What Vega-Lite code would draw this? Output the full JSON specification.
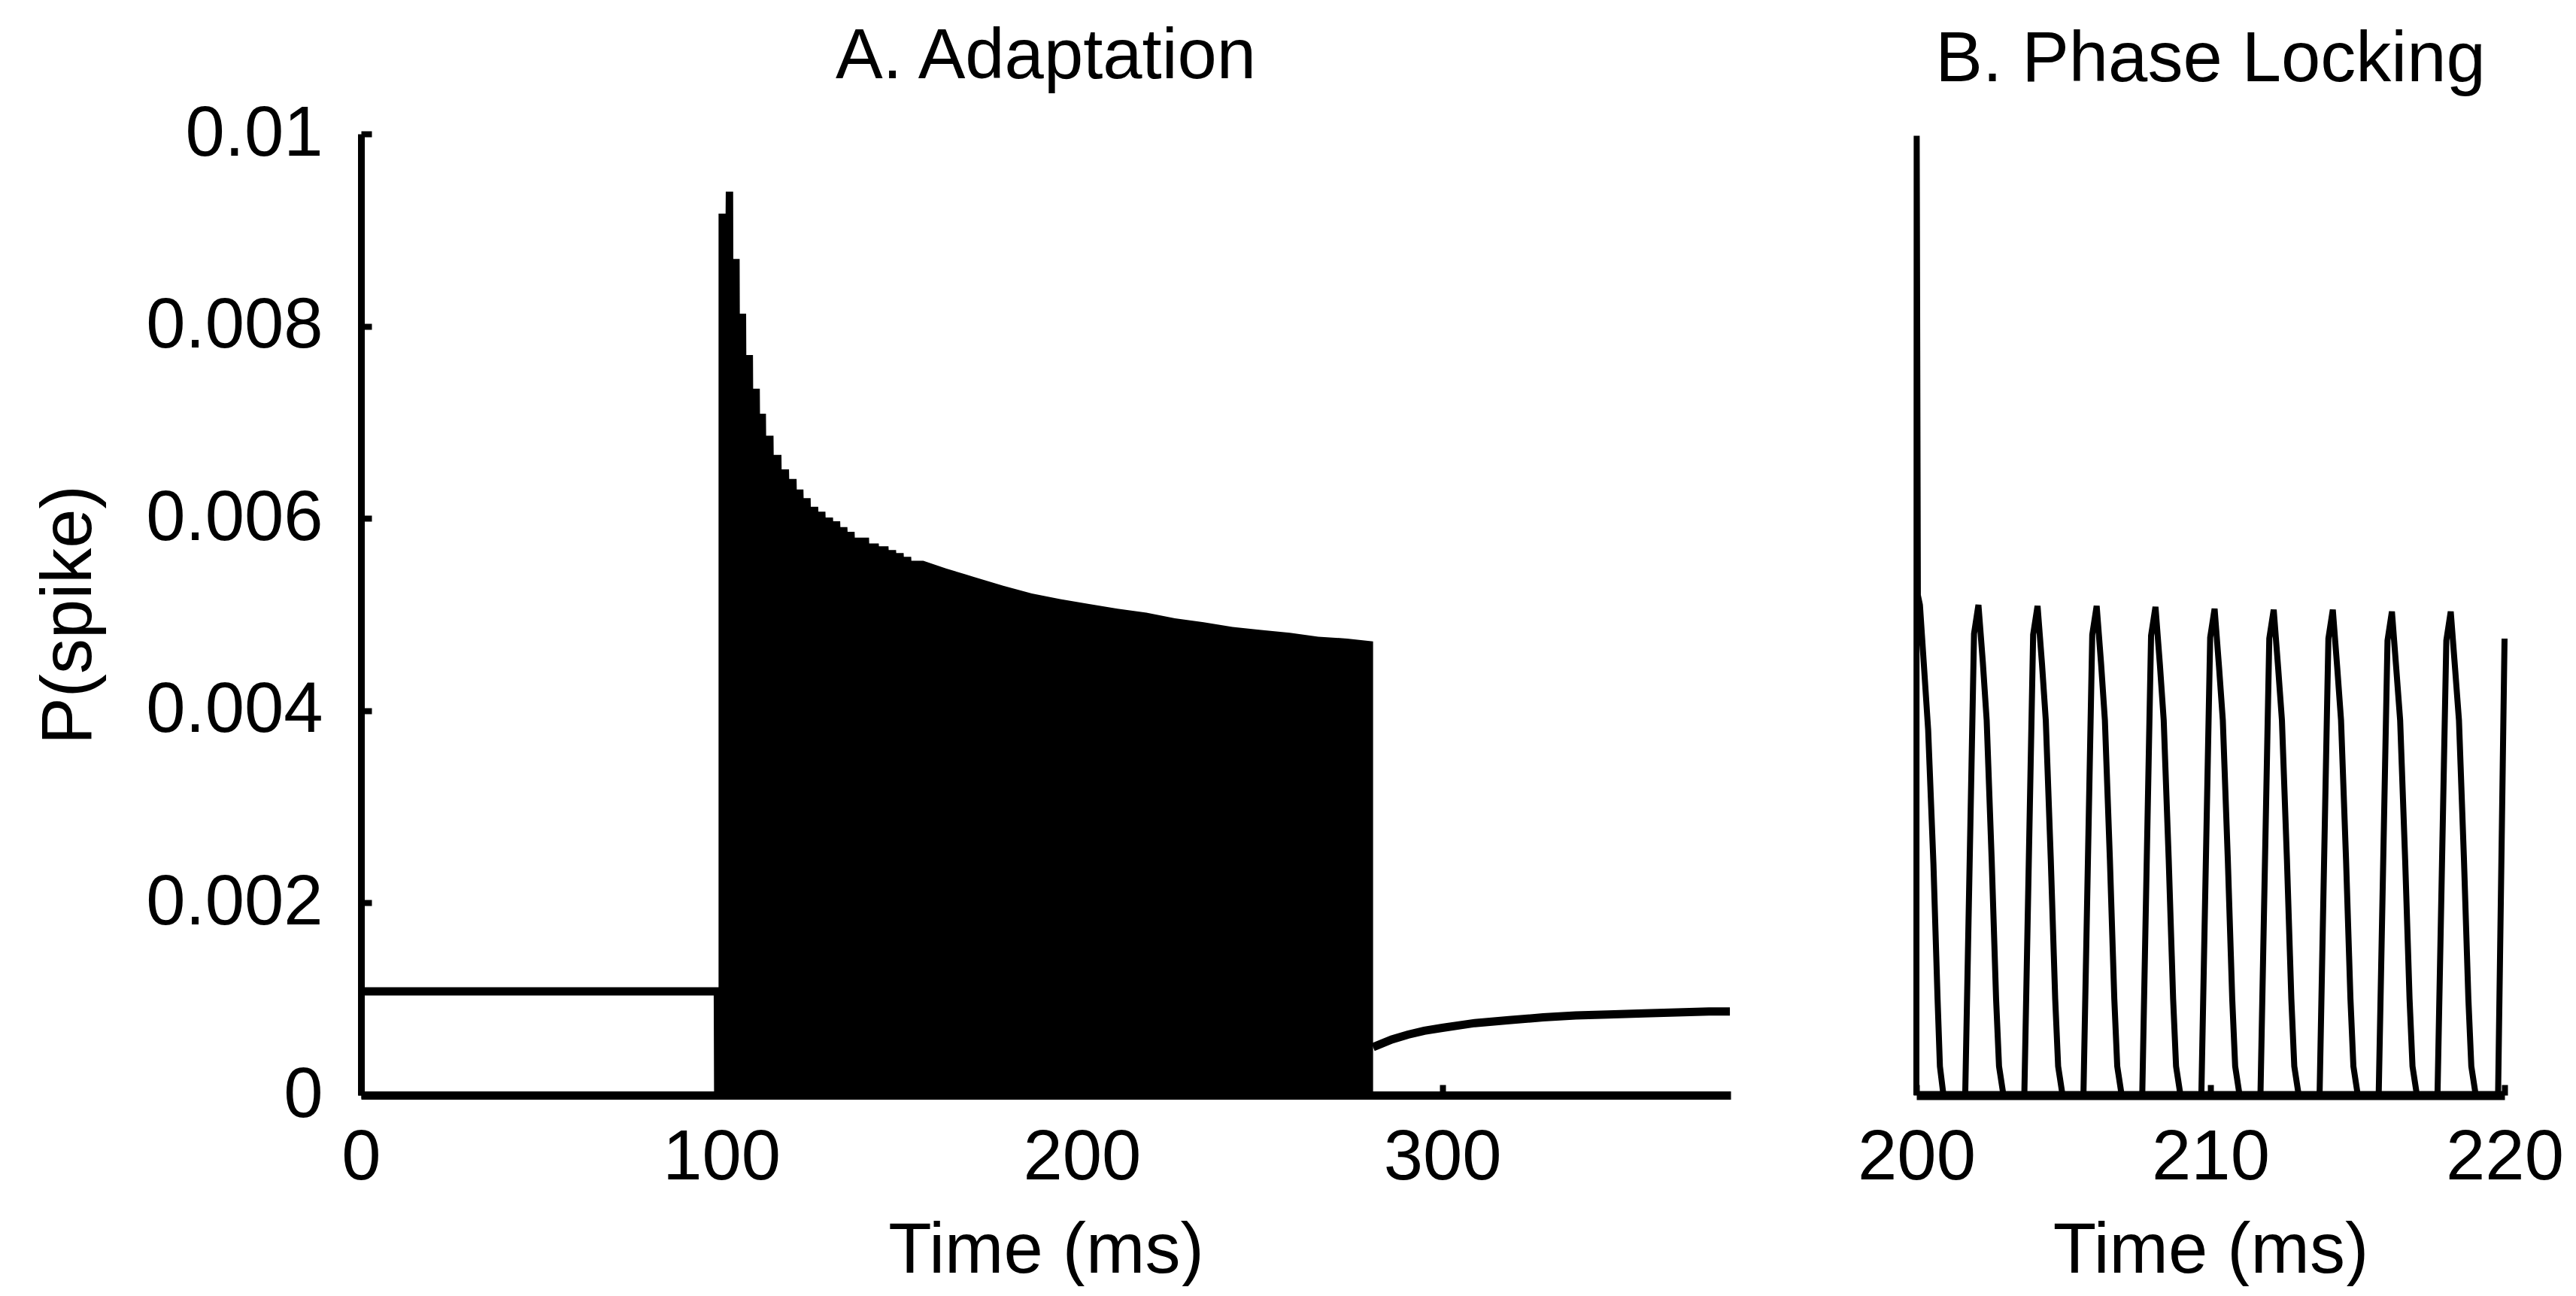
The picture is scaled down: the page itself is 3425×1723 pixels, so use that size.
{
  "$schema": "https://vega.github.io/schema/vega-lite/v6.json",
  "background": "white",
  "padding": {"left": 45, "top": 29, "right": 5, "bottom": 0},
  "datasets": {
    "pre": [
      {"t": 0, "p": 0.00108}, {"t": 99.0, "p": 0.00108}, {"t": 99.1, "p": 0}
    ],
    "env": [
      {"t": 99.2, "p": 0.00917}, {"t": 101.15, "p": 0.00917},
      {"t": 101.2, "p": 0.0094}, {"t": 103.25, "p": 0.0094},
      {"t": 103.3, "p": 0.0087}, {"t": 105.05, "p": 0.0087},
      {"t": 105.1, "p": 0.00813}, {"t": 106.85, "p": 0.00813},
      {"t": 106.9, "p": 0.0077}, {"t": 108.75, "p": 0.0077},
      {"t": 108.8, "p": 0.00735}, {"t": 110.65, "p": 0.00735},
      {"t": 110.7, "p": 0.00709}, {"t": 112.35, "p": 0.00709},
      {"t": 112.4, "p": 0.00686}, {"t": 114.45, "p": 0.00686},
      {"t": 114.5, "p": 0.00666}, {"t": 116.65, "p": 0.00666},
      {"t": 116.7, "p": 0.00651}, {"t": 118.75, "p": 0.00651},
      {"t": 118.8, "p": 0.00641}, {"t": 120.85, "p": 0.00641},
      {"t": 120.9, "p": 0.0063}, {"t": 122.75, "p": 0.0063},
      {"t": 122.8, "p": 0.00621}, {"t": 124.75, "p": 0.00621},
      {"t": 124.8, "p": 0.00612}, {"t": 126.85, "p": 0.00612},
      {"t": 126.9, "p": 0.00607}, {"t": 128.85, "p": 0.00607},
      {"t": 128.9, "p": 0.00601}, {"t": 130.95, "p": 0.00601},
      {"t": 131, "p": 0.00597}, {"t": 132.95, "p": 0.00597},
      {"t": 133, "p": 0.00591}, {"t": 134.95, "p": 0.00591},
      {"t": 135, "p": 0.00586}, {"t": 136.95, "p": 0.00586},
      {"t": 137, "p": 0.0058}, {"t": 140.95, "p": 0.0058},
      {"t": 141, "p": 0.00574}, {"t": 143.65, "p": 0.00574},
      {"t": 143.7, "p": 0.00571}, {"t": 146.35, "p": 0.00571},
      {"t": 146.4, "p": 0.00567}, {"t": 148.45, "p": 0.00567},
      {"t": 148.5, "p": 0.00564}, {"t": 150.55, "p": 0.00564},
      {"t": 150.6, "p": 0.0056}, {"t": 152.65, "p": 0.0056},
      {"t": 152.7, "p": 0.00556}, {"t": 156, "p": 0.00556},
      {"t": 162.3, "p": 0.00548}, {"t": 170.2, "p": 0.00539},
      {"t": 178.2, "p": 0.0053}, {"t": 186.1, "p": 0.00522},
      {"t": 194, "p": 0.00516}, {"t": 202, "p": 0.00511},
      {"t": 209.9, "p": 0.00506}, {"t": 217.9, "p": 0.00502},
      {"t": 225.8, "p": 0.00496}, {"t": 233.8, "p": 0.00492},
      {"t": 241.8, "p": 0.00487}, {"t": 249.7, "p": 0.00484},
      {"t": 257.7, "p": 0.00481}, {"t": 265.6, "p": 0.00477},
      {"t": 273.6, "p": 0.00475}, {"t": 280.8, "p": 0.00472}
    ],
    "rec": [
      {"t": 280.8, "p": 0.0005}, {"t": 286, "p": 0.00058}, {"t": 290.5, "p": 0.00063},
      {"t": 295, "p": 0.00067}, {"t": 300, "p": 0.0007}, {"t": 309, "p": 0.00075},
      {"t": 318.5, "p": 0.00078}, {"t": 328, "p": 0.00081}, {"t": 337, "p": 0.00083},
      {"t": 346, "p": 0.00084}, {"t": 356, "p": 0.00085}, {"t": 365, "p": 0.00086},
      {"t": 374, "p": 0.00087}, {"t": 379.8, "p": 0.00087}
    ],
    "pl": [
      {"t": 200.0, "p": 0}, {"t": 200.01, "p": 0.00998}, {"t": 200.05, "p": 0.0052},
      {"t": 200.12, "p": 0.0051}, {"t": 200.25, "p": 0.0045}, {"t": 200.4, "p": 0.0038},
      {"t": 200.58, "p": 0.0024}, {"t": 200.72, "p": 0.001}, {"t": 200.8, "p": 0.0003},
      {"t": 200.92, "p": 0},
      {"t": 201.66, "p": 0}, {"t": 201.96, "p": 0.0048}, {"t": 202.11, "p": 0.0051}, {"t": 202.26, "p": 0.0045}, {"t": 202.39, "p": 0.0039}, {"t": 202.56, "p": 0.00245}, {"t": 202.71, "p": 0.001}, {"t": 202.81, "p": 0.0003}, {"t": 202.96, "p": 0},
      {"t": 203.67, "p": 0}, {"t": 203.97, "p": 0.00479}, {"t": 204.12, "p": 0.00509}, {"t": 204.27, "p": 0.00449}, {"t": 204.40, "p": 0.0039}, {"t": 204.57, "p": 0.00245}, {"t": 204.72, "p": 0.001}, {"t": 204.82, "p": 0.0003}, {"t": 204.97, "p": 0},
      {"t": 205.68, "p": 0}, {"t": 205.98, "p": 0.00479}, {"t": 206.13, "p": 0.00509}, {"t": 206.28, "p": 0.00449}, {"t": 206.41, "p": 0.0039}, {"t": 206.58, "p": 0.00245}, {"t": 206.73, "p": 0.001}, {"t": 206.83, "p": 0.0003}, {"t": 206.98, "p": 0},
      {"t": 207.68, "p": 0}, {"t": 207.98, "p": 0.00478}, {"t": 208.13, "p": 0.00508}, {"t": 208.28, "p": 0.00448}, {"t": 208.41, "p": 0.0039}, {"t": 208.58, "p": 0.00245}, {"t": 208.73, "p": 0.001}, {"t": 208.83, "p": 0.0003}, {"t": 208.98, "p": 0},
      {"t": 209.69, "p": 0}, {"t": 209.99, "p": 0.00476}, {"t": 210.14, "p": 0.00506}, {"t": 210.29, "p": 0.00446}, {"t": 210.42, "p": 0.0039}, {"t": 210.59, "p": 0.00245}, {"t": 210.74, "p": 0.001}, {"t": 210.84, "p": 0.0003}, {"t": 210.99, "p": 0},
      {"t": 211.70, "p": 0}, {"t": 212.00, "p": 0.00475}, {"t": 212.15, "p": 0.00505}, {"t": 212.30, "p": 0.00445}, {"t": 212.43, "p": 0.0039}, {"t": 212.60, "p": 0.00245}, {"t": 212.75, "p": 0.001}, {"t": 212.85, "p": 0.0003}, {"t": 213.00, "p": 0},
      {"t": 213.71, "p": 0}, {"t": 214.01, "p": 0.00475}, {"t": 214.16, "p": 0.00505}, {"t": 214.31, "p": 0.00445}, {"t": 214.44, "p": 0.0039}, {"t": 214.61, "p": 0.00245}, {"t": 214.76, "p": 0.001}, {"t": 214.86, "p": 0.0003}, {"t": 215.01, "p": 0},
      {"t": 215.72, "p": 0}, {"t": 216.02, "p": 0.00473}, {"t": 216.17, "p": 0.00503}, {"t": 216.32, "p": 0.00443}, {"t": 216.45, "p": 0.0039}, {"t": 216.62, "p": 0.00245}, {"t": 216.77, "p": 0.001}, {"t": 216.87, "p": 0.0003}, {"t": 217.02, "p": 0},
      {"t": 217.72, "p": 0}, {"t": 218.02, "p": 0.00473}, {"t": 218.17, "p": 0.00503}, {"t": 218.32, "p": 0.00443}, {"t": 218.45, "p": 0.0039}, {"t": 218.62, "p": 0.00245}, {"t": 218.77, "p": 0.001}, {"t": 218.87, "p": 0.0003}, {"t": 219.02, "p": 0},
      {"t": 219.78, "p": 0}, {"t": 220.0, "p": 0.00475}
    ]
  },
  "hconcat": [
    {
      "width": 1821,
      "height": 1278,
      "title": {"text": "A. Adaptation", "offset": -67, "baseline": "alphabetic"},
      "encoding": {
        "x": {
          "field": "t", "type": "quantitative",
          "scale": {"domain": [0, 380], "nice": false, "zero": false},
          "axis": {"title": "Time (ms)", "values": [0, 100, 200, 300], "format": "d", "tickSize": -14, "labelPadding": 51, "titlePadding": 31, "domainWidth": 11}
        },
        "y": {
          "field": "p", "type": "quantitative",
          "scale": {"domain": [0, 0.01], "nice": false},
          "axis": {"title": "P(spike)", "values": [0, 0.002, 0.004, 0.006, 0.008, 0.01], "format": "~f", "tickSize": -14, "labelPadding": 65, "titleX": -340, "titleY": 639, "titleAngle": 270, "titleBaseline": "bottom", "titleAlign": "center", "domainWidth": 9}
        }
      },
      "layer": [
        {"data": {"name": "env"}, "mark": {"type": "area", "color": "black", "interpolate": "linear"}},
        {"data": {"name": "pre"}, "mark": {"type": "line", "color": "black", "strokeWidth": 11}},
        {"data": {"name": "rec"}, "mark": {"type": "line", "color": "black", "strokeWidth": 11}}
      ]
    },
    {
      "width": 782,
      "height": 1278,
      "title": {"text": "B. Phase Locking", "offset": -37, "baseline": "alphabetic"},
      "data": {"name": "pl"},
      "mark": {"type": "line", "color": "black", "strokeWidth": 8},
      "encoding": {
        "x": {
          "field": "t", "type": "quantitative",
          "scale": {"domain": [200, 220], "nice": false, "zero": false},
          "axis": {"title": "Time (ms)", "values": [200, 210, 220], "format": "d", "tickSize": -14, "labelPadding": 51, "titlePadding": 31, "domainWidth": 12}
        },
        "y": {
          "field": "p", "type": "quantitative",
          "scale": {"domain": [0, 0.01], "nice": false},
          "axis": null
        }
      }
    }
  ],
  "spacing": 247,
  "bounds": "flush",
  "config": {
    "font": "Liberation Sans",
    "view": {"stroke": null},
    "axis": {
      "grid": false,
      "labelFont": "Liberation Sans", "titleFont": "Liberation Sans",
      "labelFontSize": 94, "titleFontSize": 94, "titleFontWeight": "normal",
      "labelColor": "black", "titleColor": "black",
      "domainColor": "black", "tickColor": "black", "tickWidth": 8,
      "labelFlush": false, "labelOverlap": false, "labelBound": false, "labelLimit": 0
    },
    "title": {"font": "Liberation Sans", "fontSize": 94, "fontWeight": "normal", "color": "black", "anchor": "middle", "frame": "group"}
  }
}
